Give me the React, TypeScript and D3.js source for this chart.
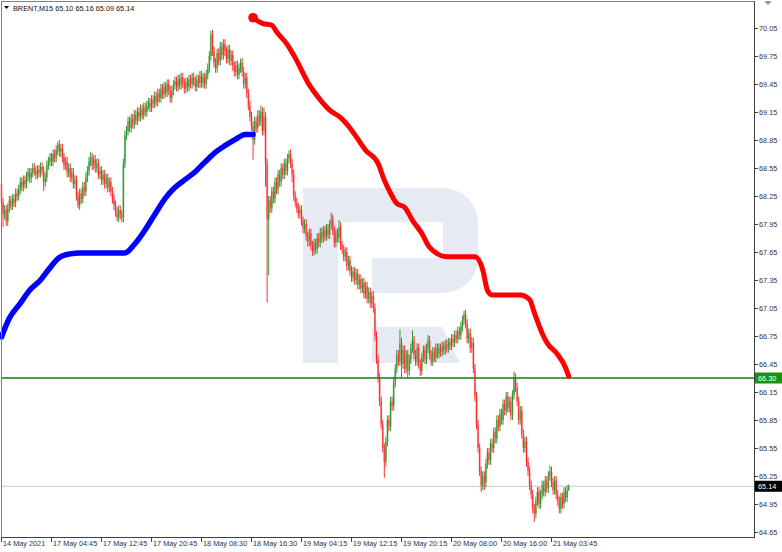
import React from 'react';
import * as d3 from 'd3';

const W = 782;
const H = 552;

// ---- Data (BRENT, M15) ----
const SYMBOL = 'BRENT,M15';
const FIRST_OPEN = 68.38;
const CLOSE_14MAY = [68.18, 68.05, 68.10, 67.98, 68.12, 68.20, 68.15, 68.22, 68.18, 68.28, 68.25, 68.32, 68.40, 68.35, 68.42, 68.38, 68.46, 68.50, 68.44, 68.50, 68.55, 68.52, 68.48, 68.53, 68.50, 68.56, 68.52, 68.40, 68.45, 68.58, 68.62, 68.66];
const CLOSE_17MAY_A = [68.62, 68.70, 68.66, 68.74, 68.80, 68.72, 68.76, 68.66, 68.58, 68.62, 68.50, 68.55, 68.45, 68.50, 68.38, 68.42, 68.25, 68.15, 68.28, 68.22, 68.35, 68.30, 68.45, 68.52, 68.62, 68.66, 68.58, 68.64, 68.55, 68.60, 68.48, 68.52];
const CLOSE_17MAY_B = [68.42, 68.48, 68.38, 68.44, 68.34, 68.40, 68.30, 68.22, 68.15, 68.08, 68.02, 68.10, 68.05, 68.02, 68.60, 68.90, 68.95, 69.05, 68.98, 69.08, 69.02, 69.12, 69.06, 69.15, 69.10, 69.18, 69.12, 69.20, 69.15, 69.22, 69.25, 69.20];
const CLOSE_17MAY_C = [69.28, 69.24, 69.32, 69.26, 69.35, 69.30, 69.40, 69.34, 69.42, 69.36, 69.45, 69.38, 69.30, 69.38, 69.44, 69.48, 69.42, 69.50, 69.44, 69.52, 69.46, 69.40, 69.47, 69.42, 69.50, 69.45, 69.52, 69.48, 69.42, 69.50, 69.46, 69.54];
const CLOSE_18MAY_A = [69.46, 69.52, 69.45, 69.55, 69.62, 69.75, 69.98, 69.80, 69.68, 69.62, 69.78, 69.70, 69.85, 69.76, 69.88, 69.80, 69.72, 69.82, 69.70, 69.76, 69.64, 69.58, 69.65, 69.55, 69.62, 69.68, 69.58, 69.45, 69.52, 69.35, 69.22, 69.10];
const CLOSE_18MAY_B = [69.00, 68.85, 69.05, 68.98, 69.12, 69.05, 69.15, 68.95, 69.10, 68.60, 68.00, 68.20, 68.12, 68.30, 68.22, 68.40, 68.32, 68.48, 68.40, 68.55, 68.48, 68.60, 68.52, 68.65, 68.70, 68.60, 68.48, 68.25, 68.18, 68.12, 68.06, 68.10];
const CLOSE_19MAY_A = [67.98, 67.90, 67.95, 67.82, 67.76, 67.85, 67.72, 67.66, 67.74, 67.68, 67.80, 67.75, 67.86, 67.80, 67.88, 67.82, 67.90, 67.84, 67.94, 68.00, 67.88, 67.75, 67.85, 67.80, 67.92, 67.72, 67.68, 67.60, 67.65, 67.50, 67.56, 67.45];
const CLOSE_19MAY_B = [67.38, 67.44, 67.35, 67.42, 67.30, 67.36, 67.26, 67.32, 67.20, 67.28, 67.15, 67.22, 67.10, 67.18, 67.05, 66.75, 66.50, 66.30, 66.05, 65.80, 65.55, 65.40, 65.62, 65.85, 65.78, 66.05, 66.00, 66.25, 66.40, 66.55, 66.48, 66.68];
const CLOSE_19MAY_C = [66.45, 66.60, 66.40, 66.55, 66.38, 66.50, 66.62, 66.70, 66.55, 66.48, 66.62, 66.45, 66.38, 66.52, 66.60, 66.50, 66.62, 66.70, 66.55, 66.48, 66.58, 66.52, 66.62, 66.56, 66.62, 66.58, 66.64, 66.60, 66.66, 66.62, 66.68, 66.65];
const CLOSE_20MAY_A = [66.72, 66.68, 66.76, 66.72, 66.80, 66.76, 66.85, 66.92, 66.98, 66.88, 66.72, 66.78, 66.62, 66.68, 66.40, 66.10, 65.80, 65.55, 65.30, 65.15, 65.25, 65.18, 65.38, 65.50, 65.42, 65.60, 65.55, 65.72, 65.65, 65.85, 65.78, 65.92];
const CLOSE_20MAY_B = [65.85, 66.02, 65.95, 66.10, 65.98, 66.05, 65.90, 66.12, 66.30, 66.20, 66.05, 65.85, 65.95, 65.70, 65.55, 65.62, 65.40, 65.30, 65.15, 65.05, 64.90, 64.85, 64.98, 65.08, 64.95, 65.05, 65.15, 65.08, 65.20, 65.12, 65.25, 65.30];
const CLOSE_21MAY = [65.18, 65.10, 65.20, 65.05, 64.98, 64.90, 65.02, 64.95, 65.08, 65.02, 65.10, 65.14];

// notable wicks: [bar index, price]
const HIGH_MARKS: [number, number][] = [[36, 68.83], [57, 68.72], [134, 70.02], [153, 69.72], [166, 69.22], [168, 69.20], [184, 68.74], [211, 68.07], [216, 67.99], [255, 66.82], [263, 66.81], [273, 66.76], [296, 67.02], [301, 66.74], [328, 66.37], [351, 65.36], [363, 65.16]];
const LOW_MARKS: [number, number][] = [[1, 67.92], [27, 68.30], [49, 68.12], [74, 67.98], [161, 68.64], [169, 68.35], [170, 67.11], [171, 67.40], [186, 68.40], [245, 65.23], [256, 66.30], [260, 66.30], [268, 66.32], [307, 65.08], [309, 65.10], [341, 64.76], [357, 64.85], [363, 65.09]];
const WICK = 0.05;

// indicator lines: [bar index, price]
const BLUE_LINE: [number, number][] = [[0, 66.74], [5, 66.94], [12, 67.10], [18, 67.24], [25, 67.35], [31, 67.48], [37, 67.59], [44, 67.63], [50, 67.64], [79, 67.64], [85, 67.73], [92, 67.89], [98, 68.05], [105, 68.23], [111, 68.34], [117, 68.42], [124, 68.51], [130, 68.61], [137, 68.72], [143, 68.79], [150, 68.86], [156, 68.91], [161, 68.91]];
const RED_LINE: [number, number][] = [[161, 70.16], [167, 70.10], [173, 70.08], [176, 70.01], [183, 69.87], [188, 69.73], [197, 69.44], [204, 69.28], [210, 69.17], [217, 69.09], [222, 69.00], [226, 68.91], [233, 68.74], [241, 68.60], [245, 68.42], [249, 68.28], [253, 68.17], [258, 68.13], [263, 67.99], [269, 67.85], [274, 67.70], [285, 67.60], [303, 67.60], [308, 67.46], [311, 67.24], [314, 67.19], [332, 67.19], [338, 67.14], [341, 67.00], [346, 66.78], [349, 66.68], [356, 66.55], [361, 66.41], [363, 66.32]];

const LEVEL_PRICE = 66.30;
const BID_PRICE = 65.14;

const PRICE_TICKS = [70.05, 69.75, 69.45, 69.15, 68.85, 68.55, 68.25, 67.95, 67.65, 67.35, 67.05, 66.75, 66.45, 66.15, 65.85, 65.55, 65.25, 64.95, 64.65];
const TIME_LABELS = ['14 May 2021', '17 May 04:45', '17 May 12:45', '17 May 20:45', '18 May 08:30', '18 May 16:30', '19 May 04:15', '19 May 12:15', '19 May 20:15', '20 May 08:00', '20 May 16:00', '21 May 03:45'];
const BARS_PER_LABEL = 32;

const CLOSES = [
  ...CLOSE_14MAY, ...CLOSE_17MAY_A, ...CLOSE_17MAY_B, ...CLOSE_17MAY_C,
  ...CLOSE_18MAY_A, ...CLOSE_18MAY_B, ...CLOSE_19MAY_A, ...CLOSE_19MAY_B,
  ...CLOSE_19MAY_C, ...CLOSE_20MAY_A, ...CLOSE_20MAY_B, ...CLOSE_21MAY,
];

const FONT = "'Liberation Sans', Arial, sans-serif";

export default function App() {
  const plot = { left: 1, top: 1, right: 754, bottom: 537 };
  const x = d3.scaleLinear().domain([0, BARS_PER_LABEL]).range([1.5, 51.5]);
  const y = d3.scaleLinear().domain([64.65, 70.05]).range([532, 28]);

  const highMap = new Map(HIGH_MARKS);
  const lowMap = new Map(LOW_MARKS);
  const candles = CLOSES.map((c, i) => {
    const o = i === 0 ? FIRST_OPEN : CLOSES[i - 1];
    const h = highMap.get(i) ?? Math.max(o, c) + WICK;
    const l = lowMap.get(i) ?? Math.min(o, c) - WICK;
    return { i, o, h, l, c };
  });
  const last = candles[candles.length - 1];

  const line = d3
    .line<[number, number]>()
    .x((d) => x(d[0]))
    .y((d) => y(d[1]))
    .curve(d3.curveMonotoneX);

  const fmt = d3.format('.2f');

  return (
    <svg
      width={W}
      height={H}
      viewBox={`0 0 ${W} ${H}`}
      style={{ position: 'fixed', left: 0, top: 0, background: '#fff' }}
      fontFamily={FONT}
    >
      <rect x={0} y={0} width={W} height={H} fill="#fff" />
      {/* watermark logo */}
      <g fill="#e6eaf2">
        <path d="M303,188 H443 A35,35 0 0 1 478,223 V258 A35,35 0 0 1 443,293 H372 V258 H443 V222 H338 V363 H303 Z" />
        <path d="M372,327 H442 L460,363 H372 Z" />
      </g>

      {/* bid line */}
      <line x1={plot.left} x2={plot.right} y1={y(BID_PRICE)} y2={y(BID_PRICE)} stroke="#c8c8c8" strokeWidth={1} />

      {/* candles */}
      <g>
        {candles.map((d) => {
          const up = d.c >= d.o;
          const cx = x(d.i);
          const top = y(Math.max(d.o, d.c));
          const bot = y(Math.min(d.o, d.c));
          return (
            <g key={d.i}>
              <rect x={cx - 0.95} width={1.9} y={top} height={Math.max(1, bot - top)} fill={up ? '#86c986' : '#ff8f8f'} />
              <line x1={cx} x2={cx} y1={y(d.h)} y2={y(d.l)} stroke={up ? '#1e8c1e' : '#ff1a1a'} strokeWidth={0.9} />
            </g>
          );
        })}
      </g>

      {/* level line */}
      <line x1={plot.left} x2={plot.right} y1={y(LEVEL_PRICE)} y2={y(LEVEL_PRICE)} stroke="#108010" strokeWidth={1.6} />

      {/* indicator lines */}
      <path d={line(BLUE_LINE) ?? ''} fill="none" stroke="#0000ff" strokeWidth={5.5} strokeLinecap="round" strokeLinejoin="round" />
      <path d={line(RED_LINE) ?? ''} fill="none" stroke="#ff0000" strokeWidth={5} strokeLinecap="round" strokeLinejoin="round" />
      <circle cx={x(RED_LINE[0][0])} cy={y(RED_LINE[0][1])} r={4.8} fill="#ff0000" />

      {/* frame */}
      <line x1={plot.left + 0.5} x2={plot.left + 0.5} y1={plot.top} y2={plot.bottom} stroke="#808080" />
      <line x1={plot.left} x2={plot.right} y1={plot.top + 0.5} y2={plot.top + 0.5} stroke="#808080" />
      <line x1={plot.left} x2={plot.right + 1} y1={plot.bottom + 0.5} y2={plot.bottom + 0.5} stroke="#404040" />
      <line x1={plot.right + 0.5} x2={plot.right + 0.5} y1={plot.top} y2={plot.bottom} stroke="#404040" />

      {/* price axis */}
      <g fontSize={7.3} fill="#333">
        {PRICE_TICKS.map((p) => (
          <g key={p}>
            <line x1={plot.right + 1} x2={plot.right + 4} y1={Math.round(y(p)) + 0.5} y2={Math.round(y(p)) + 0.5} stroke="#404040" />
            <text x={759} y={y(p) + 2.6}>{fmt(p)}</text>
          </g>
        ))}
      </g>
      {/* level label */}
      <rect x={755} y={y(LEVEL_PRICE) - 5.5} width={27} height={11} fill="#169416" />
      <text x={758} y={y(LEVEL_PRICE) + 2.7} fontSize={7.3} fill="#fff">{fmt(LEVEL_PRICE)}</text>
      {/* bid label */}
      <rect x={755} y={y(BID_PRICE) - 5.5} width={27} height={11} fill="#000" />
      <text x={758} y={y(BID_PRICE) + 2.7} fontSize={7.3} fill="#fff">{fmt(BID_PRICE)}</text>

      {/* time axis */}
      <g fontSize={7.3} fill="#333">
        {TIME_LABELS.map((t, k) => {
          const tx = Math.round(x(k * BARS_PER_LABEL) - 0.5) + 0.5;
          return (
            <g key={t}>
              <line x1={tx} x2={tx} y1={plot.bottom + 1} y2={plot.bottom + 5} stroke="#404040" />
              <text x={tx + 1.5} y={546}>{t}</text>
            </g>
          );
        })}
      </g>

      {/* header */}
      <path d="M4,6 L9,6 L6.5,9 Z" fill="#000" />
      <text x={13} y={11} fontSize={7.3} fill="#111">
        {`${SYMBOL}  ${fmt(last.o)} ${fmt(last.h)} ${fmt(last.l)} ${fmt(last.c)}`}
      </text>

      {/* chart shift marker */}
      <path d="M764,1 L772,1 L768,5 Z" fill="#9a9a9a" />
    </svg>
  );
}
